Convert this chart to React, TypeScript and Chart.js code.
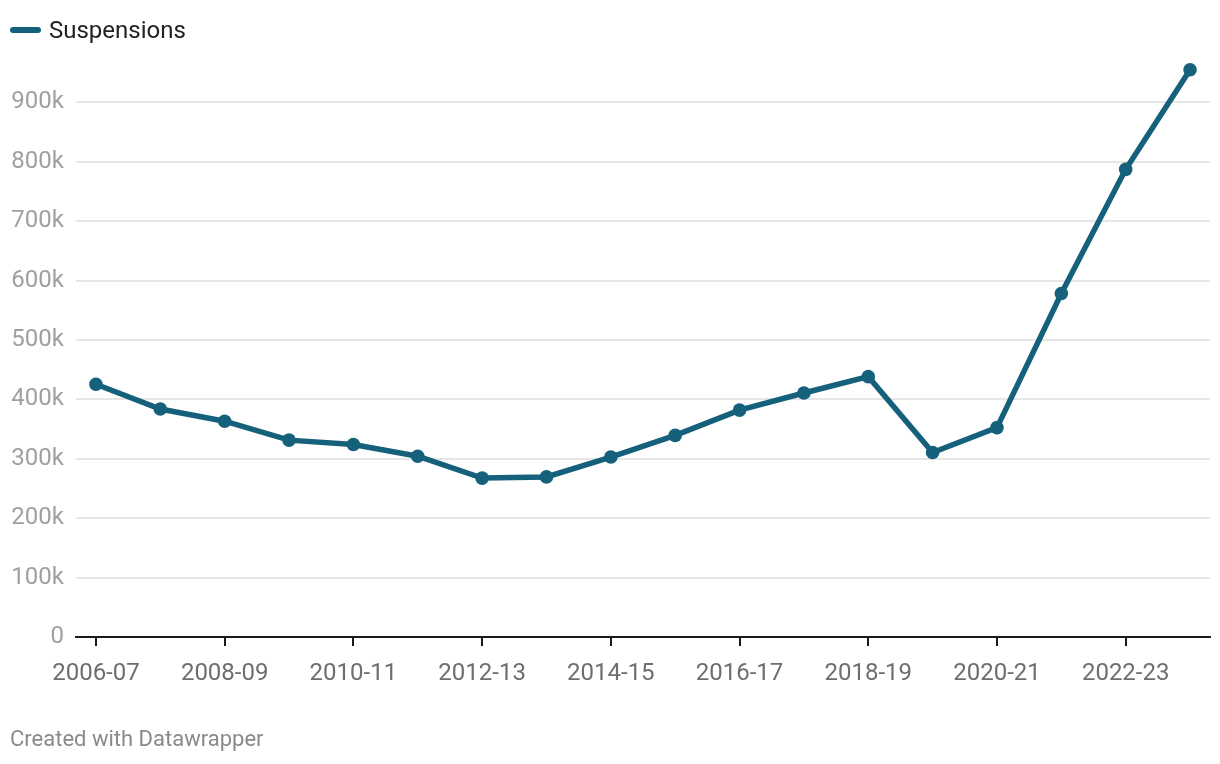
import React, { useEffect, useRef } from "react";
import { Chart, registerables } from "chart.js";

Chart.register(...registerables);

const years: string[] = [
  "2006-07", "2007-08", "2008-09", "2009-10", "2010-11", "2011-12",
  "2012-13", "2013-14", "2014-15", "2015-16", "2016-17", "2017-18",
  "2018-19", "2019-20", "2020-21", "2021-22", "2022-23", "2023-24",
];
const suspensions: number[] = [
  425600, 383800, 363300, 331400, 324100, 304400,
  267500, 269500, 303000, 339400, 381900, 410800,
  438300, 310700, 352500, 578300, 787300, 955000,
];
const xTickIndices: number[] = [0, 2, 4, 6, 8, 10, 12, 14, 16];
const yTickValues: number[] = [0, 100000, 200000, 300000, 400000, 500000, 600000, 700000, 800000, 900000];

const LINE_COLOR = "#15607a";
const FONT = "Roboto, 'Noto Sans', sans-serif";

export default function App() {
  const canvasRef = useRef<HTMLCanvasElement | null>(null);

  useEffect(() => {
    if (!canvasRef.current) return;
    const chart = new Chart(canvasRef.current, {
      type: "line",
      data: {
        datasets: [
          {
            label: "Suspensions",
            data: suspensions.map((v, i) => ({ x: i, y: v })),
            borderColor: LINE_COLOR,
            backgroundColor: LINE_COLOR,
            borderWidth: 5.5,
            pointRadius: 6.8,
            pointHoverRadius: 6.8,
            pointBackgroundColor: LINE_COLOR,
            pointBorderWidth: 0,
            tension: 0,
            clip: false as any,
          },
        ],
      },
      options: {
        animation: false,
        responsive: false,
        maintainAspectRatio: false,
        layout: { padding: { top: 43, right: 10, bottom: 0, left: 0 } },
        plugins: {
          legend: { display: false },
          tooltip: { enabled: false },
        },
        scales: {
          x: {
            type: "linear",
            min: -0.31,
            max: 17.31,
            afterBuildTicks: (scale: any) => {
              scale.ticks = xTickIndices.map((v) => ({ value: v }));
            },
            afterFit: (scale: any) => {
              scale.height = 764 - 637;
            },
            ticks: {
              autoSkip: false,
              maxRotation: 0,
              padding: 14,
              color: "#6e6e6e",
              font: { family: FONT, size: 24 },
              callback: (v: any) => years[Number(v)] ?? "",
            },
            grid: {
              drawOnChartArea: false,
              drawTicks: true,
              tickLength: 9,
              tickColor: "#1a1a1a",
              lineWidth: 2,
            },
            border: { display: true, color: "#1a1a1a", width: 2 },
          },
          y: {
            type: "linear",
            min: 0,
            max: 1000000,
            afterBuildTicks: (scale: any) => {
              scale.ticks = yTickValues.map((v) => ({ value: v }));
            },
            afterFit: (scale: any) => {
              scale.width = 76;
            },
            ticks: {
              padding: 12,
              color: "#a0a0a0",
              font: { family: FONT, size: 24 },
              callback: (v: any) => (Number(v) === 0 ? "0" : `${Number(v) / 1000}k`),
            },
            grid: {
              drawTicks: false,
              color: (ctx: any) => (ctx.tick && ctx.tick.value === 0 ? "rgba(0,0,0,0)" : "#e6e6e6"),
              lineWidth: 2,
            },
            border: { display: false },
          },
        },
      },
    });
    return () => chart.destroy();
  }, []);

  return (
    <div style={{ position: "fixed", left: 0, top: 0, width: 1220, height: 764, background: "#fff", fontFamily: FONT }}>
      <canvas ref={canvasRef} width={1220} height={764} style={{ position: "absolute", left: 0, top: 0, width: 1220, height: 764 }} />
      <div style={{ position: "absolute", left: 10, top: 16, height: 28, display: "flex", alignItems: "center" }}>
        <span style={{ display: "inline-block", width: 31, height: 6, borderRadius: 3, background: LINE_COLOR, marginRight: 8 }} />
        <span style={{ fontSize: 24, color: "#222", lineHeight: "28px" }}>Suspensions</span>
      </div>
      <div style={{ position: "absolute", left: 10, top: 725, fontSize: 22, color: "#8a8a8a", lineHeight: "28px" }}>
        Created with Datawrapper
      </div>
    </div>
  );
}
